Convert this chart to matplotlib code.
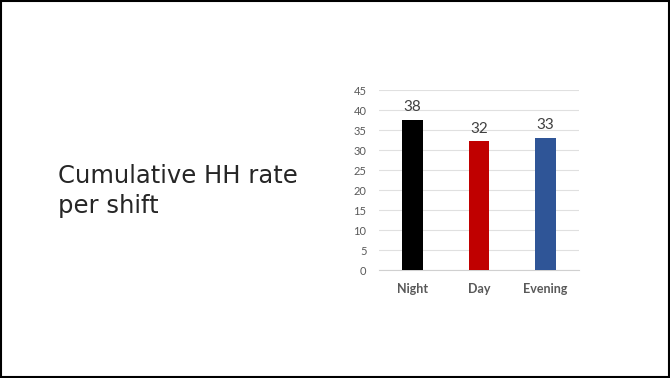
import matplotlib
matplotlib.use('Agg')
import matplotlib.pyplot as plt
from matplotlib.patches import Rectangle

shifts = ['Night', 'Day', 'Evening']
rates = [37.6, 32.3, 33.1]
colors = ['#000000', '#c00000', '#2f5597']
yticks = list(range(0, 50, 5))
heading = ['Cumulative HH rate', 'per shift']

plt.rcParams['font.family'] = ['Lato', 'DejaVu Sans']

fig = plt.figure(figsize=(6.7, 3.78), dpi=100)
fig.patches.append(Rectangle((0.002, 0.003), 0.996, 0.994, transform=fig.transFigure,
                             fill=False, edgecolor='black', linewidth=1.5))

# slide heading on the left, one text per line
for i, line in enumerate(heading):
    fig.text(0.087, 0.5167 - i * 0.0805, line, fontsize=17.5, color='#262626',
             ha='left', va='baseline', family=['DejaVu Sans'])

ax = fig.add_axes([0.5657, 0.285, 0.2985, 0.476])
x = range(len(shifts))
bars = ax.bar(x, rates, width=0.31, color=colors, zorder=3)

for b, v in zip(bars, rates):
    ax.annotate('%.0f' % v, (b.get_x() + b.get_width() / 2, v), xytext=(0, 4),
                textcoords='offset points', ha='center', va='bottom',
                fontsize=11, color='#404040')

ax.set_xlim(-0.5, 2.5)
ax.set_ylim(0, 45)
ax.set_yticks(yticks)
ax.set_xticks(list(x))
ax.set_xticklabels(shifts, fontweight='bold')
ax.tick_params(axis='y', length=0, labelsize=8, labelcolor='#595959', pad=9)
ax.tick_params(axis='x', length=0, labelsize=9, labelcolor='#595959', pad=9)
ax.grid(axis='y', color='#e0e0e0', linewidth=0.8, zorder=0)
for side in ['top', 'right', 'left']:
    ax.spines[side].set_visible(False)
ax.spines['bottom'].set_color('#d0d0d0')

fig.savefig('out.png', dpi=100)
